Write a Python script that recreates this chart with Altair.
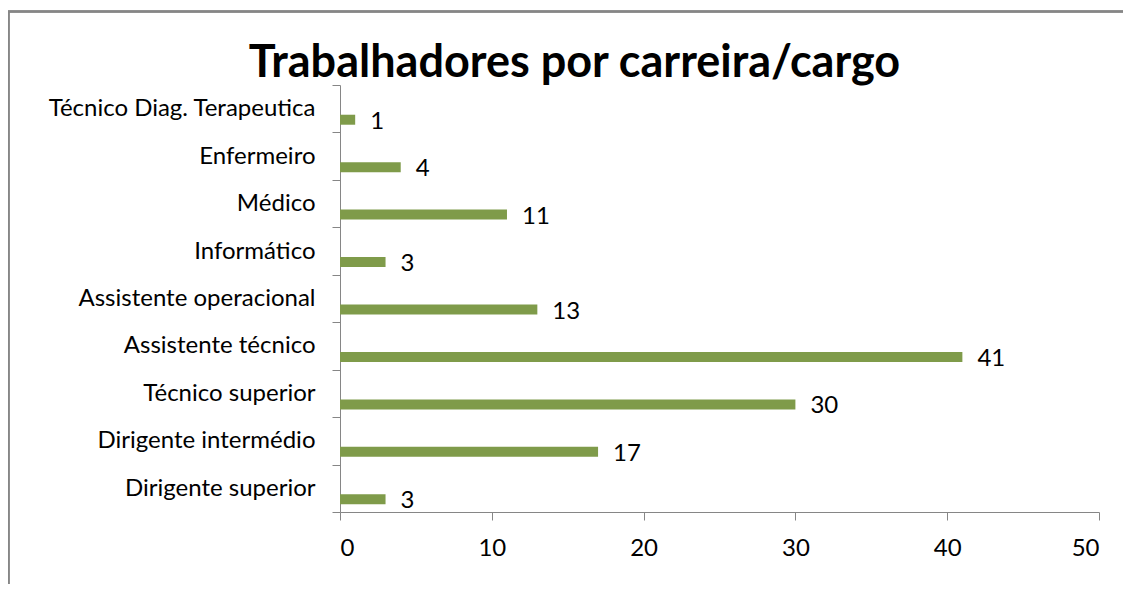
import altair as alt
import pandas as pd

categories = [
    "Técnico Diag. Terapeutica",
    "Enfermeiro",
    "Médico",
    "Informático",
    "Assistente operacional",
    "Assistente técnico",
    "Técnico superior",
    "Dirigente intermédio",
    "Dirigente superior",
]
values = [1, 4, 11, 3, 13, 41, 30, 17, 3]
x_ticks = [0, 10, 20, 30, 40, 50]

df = pd.DataFrame({"cargo": categories, "n": values})

FONT = "Lato"
GREEN = "#7F9B4A"
GRAY = "#868686"

W, H = 759, 427
LEFT, TOP = 332, 77

y_enc = alt.Y(
    "cargo:N",
    sort=categories,
    title=None,
    axis=alt.Axis(
        tickBand="extent",
        tickSize=8,
        tickColor=GRAY,
        domainColor=GRAY,
        labelFont=FONT,
        labelFontSize=24,
        labelColor="black",
        labelPadding=17,
        labelLimit=400,
    ),
    scale=alt.Scale(paddingInner=0, paddingOuter=0),
)
x_enc = alt.X(
    "n:Q",
    title=None,
    scale=alt.Scale(domain=[0, 50], nice=False),
    axis=alt.Axis(
        values=x_ticks,
        tickSize=8,
        tickColor=GRAY,
        domainColor=GRAY,
        grid=False,
        labelFont=FONT,
        labelFontSize=24,
        labelColor="black",
        labelPadding=16,
    ),
)

bars = alt.Chart(df).mark_bar(height=10, yOffset=11, color=GREEN).encode(x=x_enc, y=y_enc)
labels = alt.Chart(df).mark_text(
    align="left", baseline="middle", dx=15, yOffset=13, font=FONT, fontSize=24, color="black"
).encode(x="n:Q", y=alt.Y("cargo:N", sort=categories), text="n:Q")

# chart frame: only top and left edges are visible in the reference crop
border = alt.Chart(df).mark_rect(fill=None, stroke=GRAY, strokeWidth=1.5).encode(
    x=alt.value(8.5 - 340), x2=alt.value(1200 - 340), y=alt.value(11.5 - 85), y2=alt.value(650 - 85)
)

chart = (
    alt.layer(border, bars, labels)
    .properties(
        width=W,
        height=H,
        autosize=alt.AutoSizeParams(type="none"),
        padding={"left": LEFT, "top": TOP, "right": 24, "bottom": 72},
        background="white",
        title=alt.TitleParams(
            "Trabalhadores por carreira/cargo",
            font=FONT,
            fontSize=45,
            fontWeight="bold",
            color="black",
            anchor="middle",
            dx=-145,
            dy=89,
            offset=14,
        ),
    )
    .configure_view(stroke=None)
)

chart.save("out.html", embed_options={"renderer": "svg", "actions": False})
